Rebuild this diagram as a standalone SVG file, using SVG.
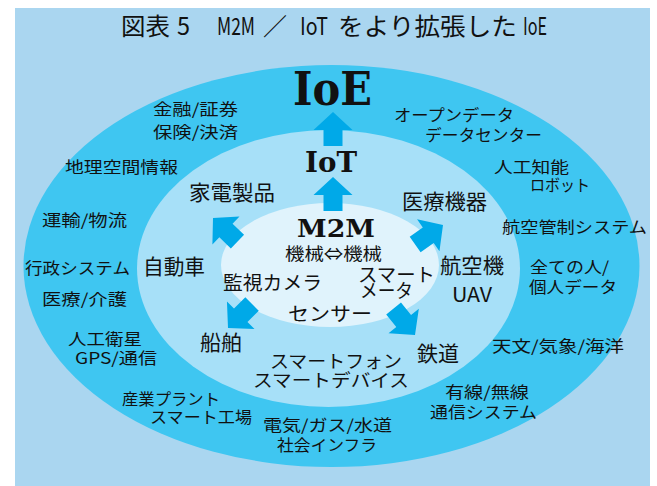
<svg xmlns="http://www.w3.org/2000/svg" width="657" height="486" viewBox="0 0 657 486">
<style>
.t{font-family:"Noto Sans CJK JP","Noto Sans",sans-serif;fill:#111;}
.o{font-size:16px;}
.m{font-size:21px;}
.i{font-size:19px;}
.s{font-family:"DejaVu Serif","Liberation Serif",serif;font-weight:bold;fill:#111;}
.arr{fill:#00a9e8;}
</style>
<defs>
<polygon id="arrow" points="0,0 19.5,18 9.5,18 9.5,34 -9.5,34 -9.5,18 -19.5,18"/>
</defs>
<rect x="15" y="8" width="635" height="478" fill="#aad6f0"/>
<g id="title">
<text class="t" font-size="24" y="35"><tspan x="121" textLength="49" lengthAdjust="spacingAndGlyphs">図表</tspan><tspan x="177" textLength="13" lengthAdjust="spacingAndGlyphs">5</tspan><tspan x="217" textLength="38" lengthAdjust="spacingAndGlyphs">M2M</tspan><tspan x="263" textLength="24" lengthAdjust="spacingAndGlyphs">／</tspan><tspan x="300" textLength="28" lengthAdjust="spacingAndGlyphs">IoT</tspan><tspan x="338" textLength="179" lengthAdjust="spacingAndGlyphs">をより拡張した</tspan><tspan x="523" textLength="24" lengthAdjust="spacingAndGlyphs">IoE</tspan></text>
</g>
<g id="ring-ioe"><ellipse cx="331.5" cy="266" rx="308" ry="201" fill="#3fc6f1"/></g>
<g id="ring-iot"><ellipse cx="328.5" cy="268.5" rx="191.5" ry="138.5" fill="#a7e0f8"/></g>
<g id="ring-m2m"><ellipse cx="330" cy="265" rx="109" ry="62" fill="#e0f3fc"/></g>
<g id="connectors" class="arr">
<use href="#arrow" transform="translate(333,112)"/>
<use href="#arrow" transform="translate(333,177)"/>
<use href="#arrow" transform="translate(213,218) rotate(-46)"/>
<use href="#arrow" transform="translate(443,225) rotate(55)"/>
<use href="#arrow" transform="translate(228,328) rotate(-135)"/>
<use href="#arrow" transform="translate(415,335) rotate(141)"/>
</g>
<g id="ioe"><text class="s" x="293" y="105" font-size="46" textLength="79" lengthAdjust="spacingAndGlyphs">IoE</text></g>
<g id="iot"><text class="s" x="305" y="172" font-size="27" textLength="52" lengthAdjust="spacingAndGlyphs">IoT</text></g>
<g id="m2m">
<text class="s" x="297" y="237" font-size="24" textLength="78" lengthAdjust="spacingAndGlyphs">M2M</text>
<text class="t" x="285" y="260" font-size="17" textLength="97" lengthAdjust="spacingAndGlyphs">機械⇔機械</text>
</g>
<g id="inner-labels" class="t i">
<text x="223" y="290" textLength="99" lengthAdjust="spacingAndGlyphs">監視カメラ</text>
<text x="288" y="321" textLength="84" lengthAdjust="spacingAndGlyphs">センサー</text>
<text x="358" y="282" textLength="77" lengthAdjust="spacingAndGlyphs">スマート</text>
<text x="360" y="298" textLength="53" lengthAdjust="spacingAndGlyphs">メータ</text>
</g>
<g id="middle-labels" class="t m">
<text x="189" y="200" textLength="86" lengthAdjust="spacingAndGlyphs">家電製品</text>
<text x="143" y="274" textLength="62" lengthAdjust="spacingAndGlyphs">自動車</text>
<text x="200" y="350" textLength="42" lengthAdjust="spacingAndGlyphs">船舶</text>
<text x="402" y="209" textLength="85" lengthAdjust="spacingAndGlyphs">医療機器</text>
<text x="440" y="273" textLength="64" lengthAdjust="spacingAndGlyphs">航空機</text>
<text x="452" y="302" font-size="20" textLength="40" lengthAdjust="spacingAndGlyphs">UAV</text>
<text x="417" y="361" textLength="42" lengthAdjust="spacingAndGlyphs">鉄道</text>
<text x="270" y="368" font-size="18" textLength="132" lengthAdjust="spacingAndGlyphs">スマートフォン</text>
<text x="253" y="387" font-size="18" textLength="156" lengthAdjust="spacingAndGlyphs">スマートデバイス</text>
</g>
<g id="outer-labels" class="t o">
<text x="153" y="115" textLength="85" lengthAdjust="spacingAndGlyphs">金融/証券</text>
<text x="153" y="138" textLength="85" lengthAdjust="spacingAndGlyphs">保険/決済</text>
<text x="65" y="173" textLength="113" lengthAdjust="spacingAndGlyphs">地理空間情報</text>
<text x="42" y="226" textLength="85" lengthAdjust="spacingAndGlyphs">運輸/物流</text>
<text x="25" y="274" textLength="105" lengthAdjust="spacingAndGlyphs">行政システム</text>
<text x="42" y="305" textLength="85" lengthAdjust="spacingAndGlyphs">医療/介護</text>
<text x="68" y="345" textLength="74" lengthAdjust="spacingAndGlyphs">人工衛星</text>
<text x="75" y="364" textLength="82" lengthAdjust="spacingAndGlyphs">GPS/通信</text>
<text x="122" y="405" textLength="98" lengthAdjust="spacingAndGlyphs">産業プラント</text>
<text x="150" y="423" textLength="102" lengthAdjust="spacingAndGlyphs">スマート工場</text>
<text x="263" y="431" textLength="129" lengthAdjust="spacingAndGlyphs">電気/ガス/水道</text>
<text x="277" y="451" textLength="100" lengthAdjust="spacingAndGlyphs">社会インフラ</text>
<text x="394" y="121" textLength="120" lengthAdjust="spacingAndGlyphs">オープンデータ</text>
<text x="425" y="141" textLength="117" lengthAdjust="spacingAndGlyphs">データセンター</text>
<text x="494" y="173" textLength="75" lengthAdjust="spacingAndGlyphs">人工知能</text>
<text x="530" y="191" textLength="60" lengthAdjust="spacingAndGlyphs">ロボット</text>
<text x="502" y="233" textLength="145" lengthAdjust="spacingAndGlyphs">航空管制システム</text>
<text x="530" y="273" textLength="79" lengthAdjust="spacingAndGlyphs">全ての人/</text>
<text x="529" y="293" textLength="88" lengthAdjust="spacingAndGlyphs">個人データ</text>
<text x="492" y="352" textLength="132" lengthAdjust="spacingAndGlyphs">天文/気象/海洋</text>
<text x="445" y="398" textLength="84" lengthAdjust="spacingAndGlyphs">有線/無線</text>
<text x="430" y="418" textLength="107" lengthAdjust="spacingAndGlyphs">通信システム</text>
</g>
</svg>
